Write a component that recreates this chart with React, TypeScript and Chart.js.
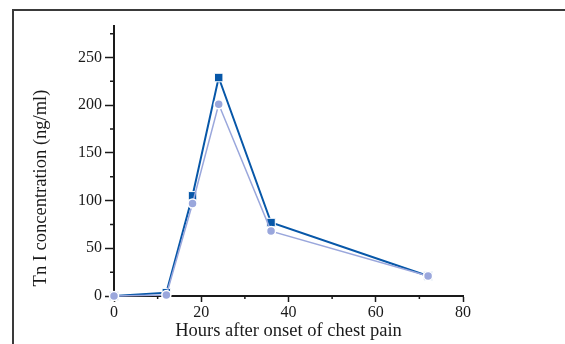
import { useEffect, useRef } from "react";
import { Chart, registerables } from "chart.js";

Chart.register(...registerables);

// Troponin I time course, two patients/assays
const hours = [0, 12, 18, 24, 36, 72];
const tnIDark = [0, 3.5, 105, 229, 77, 21];
const tnILight = [0, 1, 97, 201, 68, 21];

const xMajorStep = 20;
const yMajorStep = 50;
const xMinorTicks = [10, 30, 50, 70];
const yMinorTicks = [25, 75, 125, 175, 225, 275];

const xTitle = "Hours after onset of chest pain";
const yTitle = "Tn I concentration (ng/ml)";

const DARK = "#0757a8";
const LIGHT = "#9aa7dc";
const INK = "#1a1a1a";
const FONT = "'Liberation Serif', 'Times New Roman', serif";
const TITLE_SIZE = 18.5;

const decorations = {
  id: "decorations",
  beforeDraw(chart: any) {
    const { ctx, width, height } = chart;
    ctx.save();
    ctx.fillStyle = "#ffffff";
    ctx.fillRect(0, 0, width, height);
    // panel frame (top and left edges)
    ctx.strokeStyle = "#3a3a3a";
    ctx.lineWidth = 2;
    ctx.beginPath();
    ctx.moveTo(13, height);
    ctx.lineTo(13, 10);
    ctx.lineTo(width, 10);
    ctx.stroke();
    ctx.restore();
  },
  beforeDatasetsDraw(chart: any) {
    const { ctx } = chart;
    const xs = chart.scales.x;
    const ys = chart.scales.y;
    ctx.save();
    ctx.strokeStyle = INK;
    ctx.lineWidth = 1.5;
    ctx.beginPath();
    for (const v of xMinorTicks) {
      const px = xs.getPixelForValue(v);
      ctx.moveTo(px, ys.bottom);
      ctx.lineTo(px, ys.bottom + 3);
    }
    for (const v of yMinorTicks) {
      const py = ys.getPixelForValue(v);
      ctx.moveTo(xs.left, py);
      ctx.lineTo(xs.left - 4, py);
    }
    ctx.stroke();
    // vertical axis title
    ctx.fillStyle = INK;
    ctx.font = `${TITLE_SIZE}px ${FONT}`;
    ctx.textAlign = "center";
    ctx.textBaseline = "alphabetic";
    ctx.translate(46, 188);
    ctx.rotate(-Math.PI / 2);
    ctx.fillText(yTitle, 0, 0);
    ctx.restore();
  },
};

export default function App() {
  const ref = useRef<HTMLCanvasElement | null>(null);

  useEffect(() => {
    const canvas = ref.current;
    if (!canvas) return;
    const chart = new Chart(canvas, {
      type: "line",
      data: {
        datasets: [
          {
            data: hours.map((h, i) => ({ x: h, y: tnILight[i] })),
            borderColor: LIGHT,
            backgroundColor: LIGHT,
            borderWidth: 1.5,
            pointStyle: "circle",
            pointRadius: 4.5,
            pointBackgroundColor: LIGHT,
            pointBorderColor: "#ffffff",
            pointBorderWidth: 1.5,
            tension: 0,
            clip: false,
          },
          {
            data: hours.map((h, i) => ({ x: h, y: tnIDark[i] })),
            borderColor: DARK,
            backgroundColor: DARK,
            borderWidth: 2,
            pointStyle: "rect",
            pointRadius: 6,
            pointBackgroundColor: DARK,
            pointBorderColor: "#ffffff",
            pointBorderWidth: 1,
            tension: 0,
            clip: false,
          },
        ],
      },
      options: {
        responsive: false,
        animation: false,
        devicePixelRatio: 1,
        events: [],
        layout: { padding: { left: 0, right: 102, top: 26, bottom: 0 } },
        plugins: { legend: { display: false }, tooltip: { enabled: false } },
        scales: {
          x: {
            type: "linear",
            min: 0,
            max: 80,
            grid: {
              drawOnChartArea: false,
              drawTicks: true,
              tickLength: 6,
              tickColor: INK,
              tickWidth: 1.5,
            },
            border: { display: true, color: INK, width: 2 },
            ticks: {
              stepSize: xMajorStep,
              padding: 1,
              color: INK,
              font: { family: FONT, size: 16 },
              maxRotation: 0,
              includeBounds: false,
            },
            title: {
              display: true,
              text: xTitle,
              color: INK,
              font: { family: FONT, size: TITLE_SIZE },
              padding: { top: 0, bottom: 2 },
            },
            afterFit: (s: any) => {
              s.height = 48;
              s.paddingLeft = 0;
              s.paddingRight = 0;
            },
          },
          y: {
            type: "linear",
            min: 0,
            max: 283,
            grid: {
              drawOnChartArea: false,
              drawTicks: true,
              tickLength: 9,
              tickColor: INK,
              tickWidth: 1.5,
            },
            border: { display: true, color: INK, width: 2 },
            ticks: {
              stepSize: yMajorStep,
              padding: 3,
              color: INK,
              font: { family: FONT, size: 16 },
              includeBounds: false,
            },
            afterFit: (s: any) => {
              s.width = 114;
              s.paddingTop = 0;
              s.paddingBottom = 0;
            },
          },
        },
      },
      plugins: [decorations],
    });
    return () => chart.destroy();
  }, []);

  return (
    <div style={{ position: "fixed", left: 0, top: 0, width: 565, height: 344, background: "#fff" }}>
      <canvas ref={ref} width={565} height={344} style={{ display: "block" }} />
    </div>
  );
}
